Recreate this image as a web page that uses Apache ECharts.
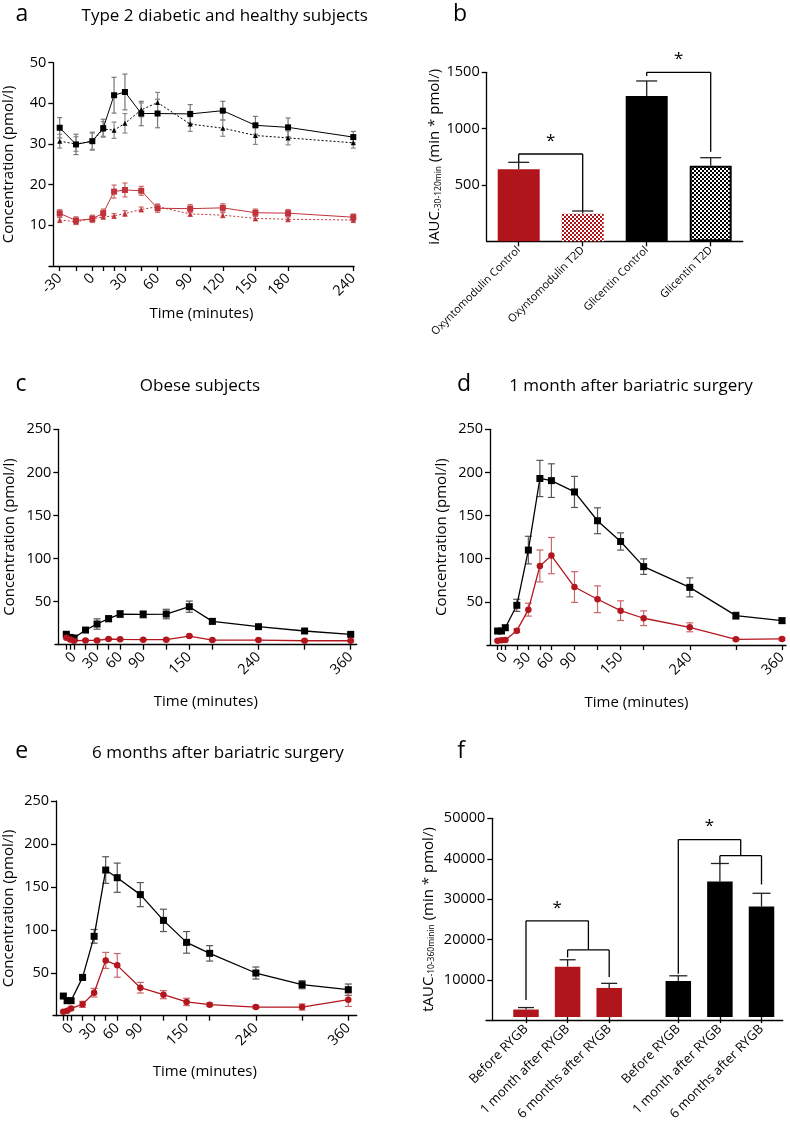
<!DOCTYPE html>
<html><head><meta charset="utf-8">
<script src="https://cdn.jsdelivr.net/npm/echarts@6/dist/echarts.min.js"></script>
<style>html,body{margin:0;padding:0;background:#fff}#chart{width:790px;height:1123px}</style>
</head><body><div id="chart"></div>
<script>
// ---------- Panel a : Type 2 diabetic and healthy subjects ----------
const aTimes = [-30,-15,0,10,20,30,45,60,90,120,150,180,240];
const aTickLabels = [-30,0,30,60,90,120,150,180,240];
const aGliControl    = [34.0,29.9,30.7,33.9,42.0,42.8,37.5,37.5,37.4,38.2,34.6,34.1,31.7];
const aGliControlErr = [2.5,2.5,2.2,2.2,4.4,4.4,3.0,3.5,2.3,2.3,2.2,2.3,1.4];
const aGliT2D        = [30.7,30.0,30.7,33.7,33.4,35.1,38.4,40.2,34.9,33.9,32.1,31.5,30.3];
const aGliT2DErr     = [1.7,1.8,2.0,1.8,2.0,2.4,1.7,2.5,1.8,2.0,2.2,1.7,1.3];
const aOxyControl    = [12.95,11.2,11.6,13.0,18.3,18.7,18.5,14.2,14.1,14.3,13.1,13.0,12.0];
const aOxyControlErr = [0.9,0.9,0.9,1.0,1.6,1.7,1.1,1.0,1.0,1.0,0.9,0.9,0.8];
const aOxyT2D        = [11.3,10.9,11.6,12.1,12.3,12.9,13.9,14.6,12.8,12.5,11.7,11.5,11.3];
const aOxyT2DErr     = [0.6,0.7,0.7,0.6,0.6,0.7,0.6,0.6,0.6,0.6,0.6,0.6,0.6];

// ---------- Panel b : iAUC ----------
const bCategories = ['Oxyntomodulin Control','Oxyntomodulin T2D','Glicentin Control','Glicentin T2D'];
const bValues = [639,245,1290,671];
const bErrors = [62,24,133,71];
// bracket: [leftCat, rightCats, topLevel, leftDrop, subLevel, rightDrops]
const bBracket1 = [0,[1],775,704,null,[269]];
const bBracket2 = [2,[3],1500,1467,null,[795]];

// ---------- Panels c, d, e ----------
const cdeTimes = [-10,-5,0,15,30,45,60,90,120,150,180,240,300,360];
const cdeTickLabels = [0,30,60,90,150,240,360];
const cGli    = [12.1,8.5,7.8,17.0,24.0,30.2,35.6,35.2,35.6,44.1,27.1,20.9,15.9,12.0];
const cGliErr = [2,1.5,1.5,2,6,3.5,4,4,5.5,6.5,3,1.5,1.5,1.5];
const cOxy    = [8.1,6.0,4.6,5.0,5.0,6.6,6.2,5.8,5.8,10.0,5.4,5.4,4.6,4.6];
const cOxyErr = [1,1,1,1,1,1,1,1,1,1,1,1,1,1];

const dGli    = [16.2,16.2,20,46,110,193,190.5,177.4,144,120,90.8,66.8,34,28.2];
const dGliErr = [2,2,3,7,16,21,19.5,18,15,10,9,11,4,3];
const dOxy    = [5,5.4,5.8,16.6,41,91.6,103.6,67.2,53,39.8,31,20.5,6.6,7];
const dOxyErr = [1,1,1,2,7.5,18.5,21,17.8,15.5,11.4,8.5,5.2,1.5,1.5];

const eGli    = [22.9,17.5,17.5,44.6,92.4,169.6,160.7,141,111,85.4,72.6,49.7,36.1,30.3];
const eGliErr = [2,2,2,3,8,15.5,17,14,13,12.6,9,7,4.7,6.6];
const eOxy    = [4.7,5.8,8.5,13.2,26.8,64.4,58.6,32.6,24.5,16,12.8,10.1,10.1,18.6];
const eOxyErr = [1,1,1.5,3.5,5,9.3,13.8,6.2,4.7,4.3,2,1.5,3.5,7.8];

// ---------- Panel f : tAUC ----------
const fCategories = ['Before RYGB','1 month after RYGB','6 months after RYGB'];
const fOxy    = [1895,12685,7331];
const fOxyErr = [495,1730,1153];
const fGli    = [9061,34102,27842];
const fGliErr = [1318,4531,3295];
const fBracketOxy = [0,[1,2],24210,4300,16900,[15000,10050]];
const fBracketGli = [0,[1,2],44650,10870,40600,[38700,33350]];

// ---------- styling ----------
const FONT = "'Open Sans', 'DejaVu Sans', sans-serif";
const RED = '#AF151B', RED_LINE = '#B3161E', RED_ERR = '#C9676B';
const BLACK = '#000', BLACK_ERR = '#555';
const AX = {color:'#000', width:1.3};
const plain = v => String(v);

function checker(c1, c2, s){
  const cv = document.createElement('canvas'); cv.width = cv.height = 2*s;
  const g = cv.getContext('2d');
  g.fillStyle = c2; g.fillRect(0,0,2*s,2*s);
  g.fillStyle = c1; g.fillRect(0,0,s,s); g.fillRect(s,s,s,s);
  return cv;
}

function yValueAxis(gi, max, interval, name, nameGap, offset, nameRich){
  const ax = {type:'value', gridIndex:gi, min:0, max, interval, offset:offset||0,
    axisLine:{show:true, onZero:false, lineStyle:AX},
    axisTick:{show:true, length:5, lineStyle:AX},
    axisLabel:{color:'#000', fontSize:14.5, margin:7, showMinLabel:false, fontFamily:FONT, formatter:plain},
    splitLine:{show:false},
    name, nameLocation:'middle', nameGap,
    nameTextStyle:{color:'#000', fontSize:15, fontFamily:FONT}};
  if(nameRich) ax.nameTextStyle.rich = nameRich;
  return ax;
}
function timeXAxis(gi, min, max, ticks, labels, nameGap){
  return {type:'value', gridIndex:gi, min, max,
    axisLine:{show:true, onZero:false, lineStyle:AX},
    axisTick:{show:true, length:5, customValues:ticks, lineStyle:AX},
    axisLabel:{color:'#000', fontSize:14.5, rotate:45, margin:10, customValues:labels, fontFamily:FONT, formatter:plain},
    splitLine:{show:false},
    name:'Time (minutes)', nameLocation:'middle', nameGap,
    nameTextStyle:{color:'#000', fontSize:15, fontFamily:FONT}};
}
function lineSeries(gi, xs, ys, color, symbol, size, dash, width){
  return {type:'line', xAxisIndex:gi, yAxisIndex:gi, data:xs.map((x,i)=>[x,ys[i]]),
    symbol, symbolSize:size, showSymbol:true, z:3, silent:true,
    itemStyle:{color, borderWidth:0}, lineStyle:{color, width:width||1.3, type:dash||'solid'}};
}
function errSeries(xi, yi, xs, ys, es, color, capW, upOnly, lw){
  return {type:'custom', xAxisIndex:xi, yAxisIndex:yi, z:2, silent:true,
    data:xs.map((x,i)=>[x, upOnly ? ys[i] : ys[i]-es[i], ys[i]+es[i]]),
    encode:{x:0, y:[1,2]},
    renderItem(params, api){
      const x = api.value(0), lo = api.value(1), hi = api.value(2);
      const p0 = api.coord([x, lo]), p1 = api.coord([x, hi]);
      const h = capW/2;
      const style = {stroke:color, lineWidth:lw||1.2, fill:null};
      const ch = [
        {type:'line', shape:{x1:p0[0],y1:p0[1],x2:p1[0],y2:p1[1]}, style},
        {type:'line', shape:{x1:p1[0]-h,y1:p1[1],x2:p1[0]+h,y2:p1[1]}, style}];
      if(!upOnly) ch.push({type:'line', shape:{x1:p0[0]-h,y1:p0[1],x2:p0[0]+h,y2:p0[1]}, style});
      return {type:'group', children:ch};
    }};
}
function bracketSeries(gi, br){
  return {type:'custom', xAxisIndex:gi, yAxisIndex:gi, z:6, silent:true, data:[[br[0], br[2]]],
    renderItem(params, api){
      const [lc, rcs, top, ldrop, sub, rdrops] = br;
      const style = {stroke:'#000', lineWidth:1.3, fill:null};
      const L = (a,b,c,d)=>({type:'line', shape:{x1:a,y1:b,x2:c,y2:d}, style});
      const lx = api.coord([lc, top])[0], yT = api.coord([lc, top])[1];
      const rx = rcs.map(c=>api.coord([c, top])[0]);
      const rmid = rx.reduce((s,v)=>s+v,0)/rx.length;
      const ch = [L(lx, yT, rmid, yT), L(lx, yT, lx, api.coord([lc, ldrop])[1])];
      if(rcs.length === 1){
        ch.push(L(rx[0], yT, rx[0], api.coord([rcs[0], rdrops[0]])[1]));
      } else {
        const yS = api.coord([rcs[0], sub])[1];
        ch.push(L(rmid, yT, rmid, yS));
        ch.push(L(rx[0], yS, rx[rx.length-1], yS));
        rcs.forEach((c,i)=>ch.push(L(rx[i], yS, rx[i], api.coord([c, rdrops[i]])[1])));
      }
      ch.push({type:'text', x:(lx+rmid)/2, y:yT-13,
        style:{text:'*', fontSize:17, fontFamily:FONT, fill:'#000', align:'center', verticalAlign:'middle'}});
      return {type:'group', children:ch};
    }};
}

const aucRich = {m:{fontSize:15, fontFamily:FONT, color:'#000'}, s:{fontSize:8.5, fontFamily:FONT, color:'#000', verticalAlign:'bottom', padding:[6,0,0,0]}};

const bStyles = [
  {color:RED},
  {color:{image:checker(RED,'#fff',2), repeat:'repeat'}},
  {color:'#000'},
  {color:{image:checker('#000','#fff',2), repeat:'repeat'}, borderColor:'#000', borderWidth:2}
];

const chart = echarts.init(document.getElementById('chart'), null, {renderer:'canvas'});

const catAxisF = (gi)=>({type:'category', gridIndex:gi, data:fCategories,
  axisLine:{show:false}, axisTick:{show:true, alignWithLabel:true, length:6, lineStyle:AX},
  axisLabel:{color:'#000', fontSize:13, rotate:45, interval:0, margin:10, fontFamily:FONT}});
const hiddenY = (gi)=>({type:'value', gridIndex:gi, min:0, max:50000, show:false});

const option = {
  animation:false,
  backgroundColor:'#fff',
  textStyle:{fontFamily:FONT, color:'#000'},
  grid:[
    {left:49, top:62.7, width:305, height:203.3},        // a
    {left:486.7, top:72.3, width:256, height:169},       // b
    {left:55, top:429.3, width:301.7, height:215.4},     // c
    {left:487, top:429.3, width:299, height:215.7},      // d
    {left:53, top:801, width:303.7, height:214.7},       // e
    {left:486, top:818.3, width:296.7, height:202.4},    // f axes
    {left:505.2, top:818.3, width:124.8, height:202.4},  // f oxyntomodulin
    {left:657.5, top:818.3, width:124.8, height:202.4}   // f glicentin
  ],
  xAxis:[
    timeXAxis(0, -39.84, 240.64, aTimes, aTickLabels, 40),
    {type:'category', gridIndex:1, data:bCategories,
      axisLine:{show:true, lineStyle:AX}, axisTick:{show:true, alignWithLabel:true, length:5, lineStyle:AX},
      axisLabel:{color:'#000', fontSize:11, rotate:45, interval:0, margin:7, fontFamily:FONT}},
    timeXAxis(2, -24.72, 367.8, cdeTimes, cdeTickLabels, 50),
    timeXAxis(3, -23.8, 365.2, cdeTimes, cdeTickLabels, 50),
    timeXAxis(4, -23.4, 370.9, cdeTimes, cdeTickLabels, 49),
    {type:'value', gridIndex:5, min:0, max:1, axisLine:{show:true, onZero:false, lineStyle:AX},
      axisTick:{show:false}, axisLabel:{show:false}, splitLine:{show:false}},
    catAxisF(6),
    catAxisF(7)
  ],
  yAxis:[
    yValueAxis(0, 50, 10, 'Concentration (pmol/l)', 37, -4.3),
    yValueAxis(1, 1500, 500, '{m|iAUC}{s|-30-120min}{m| (min * pmol/)}', 44, 0, aucRich),
    yValueAxis(2, 250, 50, 'Concentration (pmol/l)', 41, -3.3),
    yValueAxis(3, 250, 50, 'Concentration (pmol/l)', 41, -3),
    yValueAxis(4, 250, 50, 'Concentration (pmol/l)', 40, -3),
    yValueAxis(5, 50000, 10000, '{m|tAUC}{s|-10-360minin}{m| (min * pmol/)}', 56, -6.3, aucRich),
    hiddenY(6),
    hiddenY(7)
  ],
  graphic:[
    {type:'text', x:22, y:14.7, style:{text:'a', font:'23px '+FONT, fill:'#000', align:'center', verticalAlign:'middle'}},
    {type:'text', x:224.7, y:16.6, style:{text:'Type 2 diabetic and healthy subjects', font:'17px '+FONT, fill:'#000', align:'center', verticalAlign:'middle'}},
    {type:'text', x:460, y:14.7, style:{text:'b', font:'23px '+FONT, fill:'#000', align:'center', verticalAlign:'middle'}},
    {type:'text', x:21, y:384.7, style:{text:'c', font:'23px '+FONT, fill:'#000', align:'center', verticalAlign:'middle'}},
    {type:'text', x:200, y:386.6, style:{text:'Obese subjects', font:'17px '+FONT, fill:'#000', align:'center', verticalAlign:'middle'}},
    {type:'text', x:464, y:384.7, style:{text:'d', font:'23px '+FONT, fill:'#000', align:'center', verticalAlign:'middle'}},
    {type:'text', x:631, y:386.6, style:{text:'1 month after bariatric surgery', font:'17px '+FONT, fill:'#000', align:'center', verticalAlign:'middle'}},
    {type:'text', x:21.7, y:751.3, style:{text:'e', font:'23px '+FONT, fill:'#000', align:'center', verticalAlign:'middle'}},
    {type:'text', x:218, y:753.2, style:{text:'6 months after bariatric surgery', font:'17px '+FONT, fill:'#000', align:'center', verticalAlign:'middle'}},
    {type:'text', x:461, y:751.3, style:{text:'f', font:'23px '+FONT, fill:'#000', align:'center', verticalAlign:'middle'}}
  ],
  series:[
    // a
    errSeries(0,0,aTimes,aGliControl,aGliControlErr,'#777',5),
    errSeries(0,0,aTimes,aGliT2D,aGliT2DErr,'#888',5),
    errSeries(0,0,aTimes,aOxyControl,aOxyControlErr,RED_ERR,5),
    errSeries(0,0,aTimes,aOxyT2D,aOxyT2DErr,RED_ERR,5),
    lineSeries(0,aTimes,aGliControl,BLACK,'rect',6,'solid',1),
    lineSeries(0,aTimes,aGliT2D,BLACK,'triangle',5,[2,2],1),
    lineSeries(0,aTimes,aOxyControl,'#C0333A','rect',6,'solid',1),
    lineSeries(0,aTimes,aOxyT2D,'#C0333A','triangle',5,[2,2],1),
    // b
    {type:'bar', xAxisIndex:1, yAxisIndex:1, barWidth:42, z:2, silent:true,
      data:bValues.map((v,i)=>({value:v, itemStyle:bStyles[i]}))},
    errSeries(1,1,[0,1,2,3],bValues,bErrors,'#222',21,true,1.3),
    bracketSeries(1,bBracket1),
    bracketSeries(1,bBracket2),
    // c
    errSeries(2,2,cdeTimes,cGli,cGliErr,BLACK_ERR,7),
    errSeries(2,2,cdeTimes,cOxy,cOxyErr,RED_ERR,7),
    lineSeries(2,cdeTimes,cGli,BLACK,'rect',7),
    lineSeries(2,cdeTimes,cOxy,RED_LINE,'circle',6.5),
    // d
    errSeries(3,3,cdeTimes,dGli,dGliErr,BLACK_ERR,7),
    errSeries(3,3,cdeTimes,dOxy,dOxyErr,RED_ERR,7),
    lineSeries(3,cdeTimes,dGli,BLACK,'rect',7),
    lineSeries(3,cdeTimes,dOxy,RED_LINE,'circle',6.5),
    // e
    errSeries(4,4,cdeTimes,eGli,eGliErr,BLACK_ERR,7),
    errSeries(4,4,cdeTimes,eOxy,eOxyErr,RED_ERR,7),
    lineSeries(4,cdeTimes,eGli,BLACK,'rect',7),
    lineSeries(4,cdeTimes,eOxy,RED_LINE,'circle',6.5),
    // f
    {type:'bar', xAxisIndex:6, yAxisIndex:6, barWidth:25.5, z:2, silent:true, itemStyle:{color:RED}, data:fOxy},
    {type:'bar', xAxisIndex:7, yAxisIndex:7, barWidth:25.5, z:2, silent:true, itemStyle:{color:'#000'}, data:fGli},
    errSeries(6,6,[0,1,2],fOxy,fOxyErr,'#222',16,true,1.3),
    errSeries(7,7,[0,1,2],fGli,fGliErr,'#222',18,true,1.3),
    bracketSeries(6,fBracketOxy),
    bracketSeries(7,fBracketGli)
  ]
};
chart.setOption(option);
</script>
</body></html>
